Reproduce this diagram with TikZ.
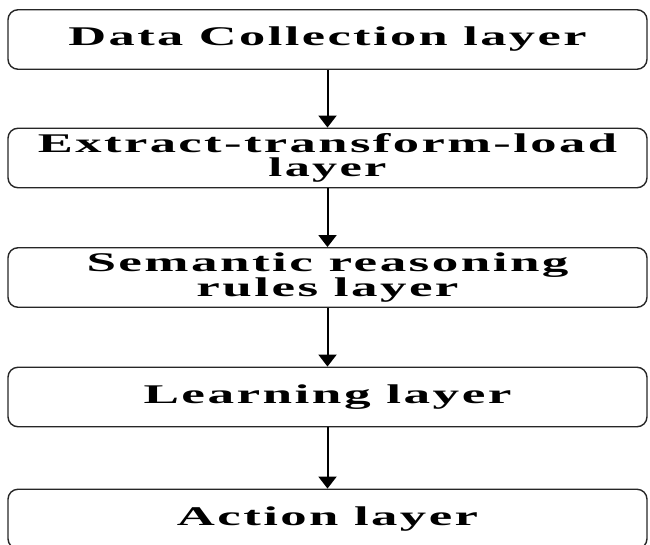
\documentclass[tikz,border=0pt]{standalone}
\usepackage{fontspec}
\usepackage{graphicx}
\usetikzlibrary{arrows.meta}
\newfontfamily\boxfont[FakeStretch=1.3,LetterSpace=6]{Liberation Serif}
\newcommand\fitline[2]{\resizebox{#1}{\height}{#2}}
\begin{document}
\begin{tikzpicture}[x=1pt,y=-1pt,
  layerbox/.style={draw=black!85, line width=1.4pt, rounded corners=10pt,
    minimum width=639pt, minimum height=59.5pt, inner sep=0pt, align=center,
    font=\boxfont\bfseries\fontsize{27}{23.5}\selectfont},
  flow/.style={-{Triangle[length=12pt,width=18pt]}, line width=2pt}]
\useasboundingbox (0,0) rectangle (650,544);
\node[layerbox] (dc) at (327.5,39.5) {\fitline{518pt}{Data Collection layer}};
\node[layerbox] (etl) at (327.5,158) {\fitline{579pt}{Extract-transform-load}\\\fitline{118pt}{layer}};
\node[layerbox] (sem) at (327.5,277.5) {\fitline{482pt}{Semantic reasoning}\\\fitline{262pt}{rules layer}};
\node[layerbox] (learn) at (327.5,397) {\fitline{368pt}{Learning layer}};
\node[layerbox] (act) at (327.5,519) {\fitline{301pt}{Action layer}};
\draw[flow] (dc) -- (etl);
\draw[flow] (etl) -- (sem);
\draw[flow] (sem) -- (learn);
\draw[flow] (learn) -- (act);
\end{tikzpicture}
\end{document}
